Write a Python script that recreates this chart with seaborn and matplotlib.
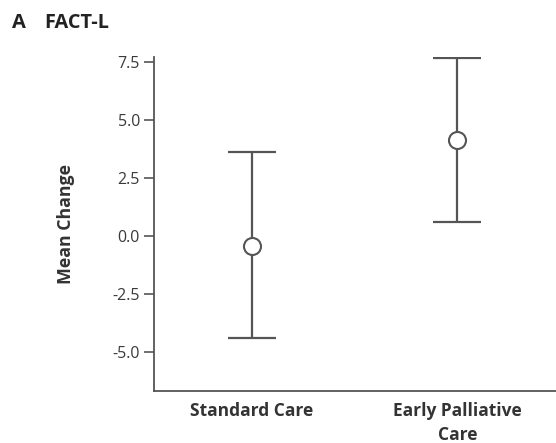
import matplotlib
matplotlib.use("Agg")
import matplotlib.pyplot as plt
import seaborn as sns
import pandas as pd

# Data
groups = ["Standard Care", "Early Palliative\nCare"]
mean_change = [-0.42, 4.14]
ci_low = [-4.41, 0.59]
ci_high = [3.61, 7.66]
yticks = [-5.0, -2.5, 0.0, 2.5, 5.0, 7.5]

sns.set_theme(style="white")
plt.rcParams["font.family"] = ["Open Sans", "DejaVu Sans"]

grey = "#555555"
df = pd.DataFrame({"group": groups, "mean": mean_change, "low": ci_low, "high": ci_high})

fig = plt.figure(figsize=(5.56, 4.43), dpi=100)
ax = fig.add_axes([0.277, 0.1174, 0.723, 0.7530])

xpos = list(range(len(groups)))
ax.errorbar(xpos, df["mean"],
            yerr=[df["mean"] - df["low"], df["high"] - df["mean"]],
            fmt="none", ecolor=grey, elinewidth=1.6, capsize=17.6, capthick=1.6, zorder=1)
sns.scatterplot(x=xpos, y=df["mean"], ax=ax, s=150, marker="o",
                facecolor="white", edgecolor=grey, linewidth=1.5, zorder=3)

ax.set_xlim(-0.475, 1.48)
ax.set_ylim(-6.68, 7.7)
ax.set_xticks(xpos)
ax.set_xticklabels(groups, fontsize=12.5, fontweight="bold", color="#333333", linespacing=1.4)
ax.set_yticks(yticks)
ax.set_yticklabels([f"{v:.1f}" for v in yticks], fontsize=11.5, color="#3a3a3a")
ax.tick_params(axis="y", length=7, width=1.2, color=grey, pad=3, left=True)
ax.tick_params(axis="x", length=0, pad=8)
ax.set_ylabel("Mean Change", fontsize=12.8, fontweight="bold", color="#333333")
ax.yaxis.set_label_coords(-0.1965, 0.5)
ax.set_xlabel("")

for s in ["top", "right"]:
    ax.spines[s].set_visible(False)
for s in ["left", "bottom"]:
    ax.spines[s].set_color(grey)
    ax.spines[s].set_linewidth(1.3)

fig.text(0.022, 0.949, "A", fontsize=14.5, fontweight="bold", color="#222222", va="center")
fig.text(0.079, 0.949, "FACT-L", fontsize=14.3, fontweight="bold", color="#222222", va="center")

fig.savefig("out.png", dpi=100)
